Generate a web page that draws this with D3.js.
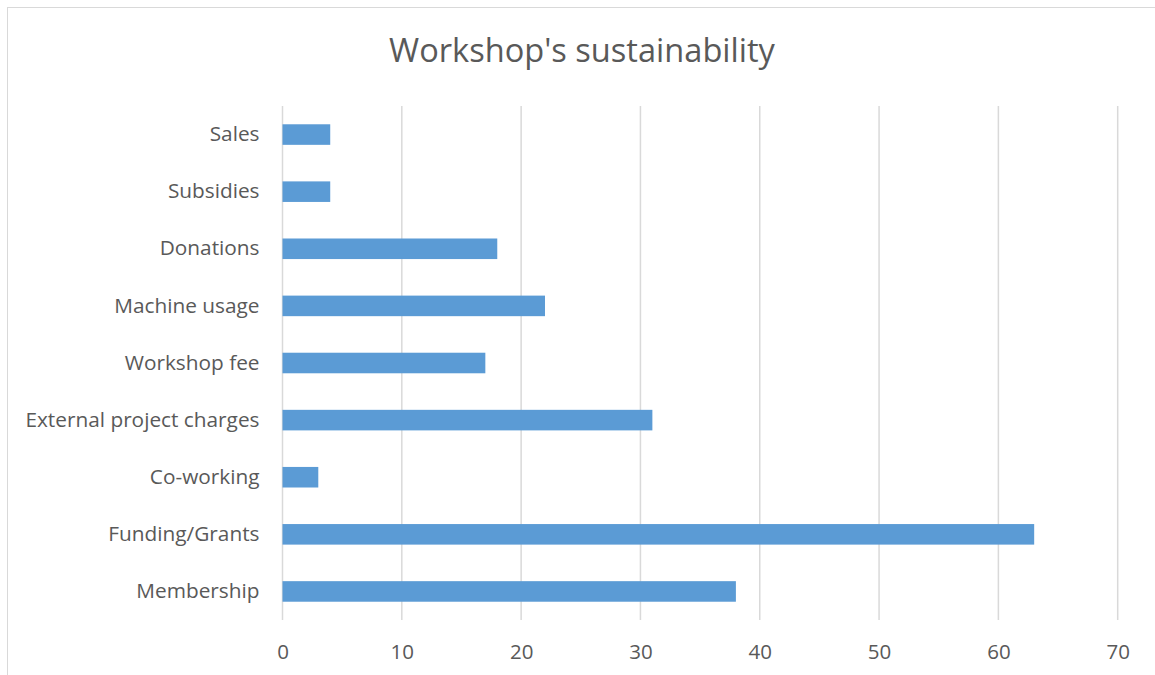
<!DOCTYPE html>
<html>
<head>
<meta charset="utf-8">
<script src="https://cdn.jsdelivr.net/npm/d3@7"></script>
<style>
  html, body { margin: 0; padding: 0; background: #fff; }
  svg { display: block; font-family: "Open Sans", "Liberation Sans", sans-serif; }
</style>
</head>
<body>
<svg id="chart" width="1155" height="675"></svg>
<script>
// Income sources of the workshop (number of responses)
const categories = ["Sales", "Subsidies", "Donations", "Machine usage", "Workshop fee",
  "External project charges", "Co-working", "Funding/Grants", "Membership"];
const values = [4, 4, 18, 22, 17, 31, 3, 63, 38];
const xTicks = [0, 10, 20, 30, 40, 50, 60, 70];
const title = "Workshop's sustainability";

const svg = d3.select("#chart");
const W = 1155, H = 675;
const margin = { left: 282.5, right: 37.3, top: 106, bottom: 55 };

// Chart frame
svg.append("rect")
  .attr("x", 7.5).attr("y", 7.5)
  .attr("width", W + 10).attr("height", H)
  .attr("fill", "#fff").attr("stroke", "#d9d9d9").attr("stroke-width", 1);

const x = d3.scaleLinear().domain([0, 70]).range([margin.left, W - margin.right]);
const y = d3.scaleBand().domain(categories).range([margin.top, H - margin.bottom]).paddingInner(0.64).paddingOuter(0.32);

// Vertical gridlines
svg.append("g")
  .selectAll("line")
  .data(xTicks)
  .join("line")
  .attr("x1", d => x(d)).attr("x2", d => x(d))
  .attr("y1", margin.top).attr("y2", H - margin.bottom)
  .attr("stroke", "#d9d9d9").attr("stroke-width", 1.5);

// Bars
svg.append("g")
  .selectAll("rect")
  .data(categories.map((c, i) => ({ c, v: values[i] })))
  .join("rect")
  .attr("x", x(0))
  .attr("y", d => y(d.c))
  .attr("width", d => x(d.v) - x(0))
  .attr("height", y.bandwidth())
  .attr("fill", "#5b9bd5");

// X axis labels
const xAxis = d3.axisBottom(x).tickValues(xTicks).tickSize(0).tickPadding(24);
const gx = svg.append("g").attr("transform", `translate(0,${H - margin.bottom})`).call(xAxis);
gx.select(".domain").remove();
gx.selectAll("text").attr("fill", "#595959").attr("font-size", 20.5)
  .attr("font-family", "\"Open Sans\", sans-serif");

// Category labels
const yAxis = d3.axisLeft(y).tickSize(0).tickPadding(23);
const gy = svg.append("g").attr("transform", `translate(${margin.left},0)`).call(yAxis);
gy.select(".domain").remove();
gy.selectAll("text").attr("fill", "#595959").attr("font-size", 20.8)
  .attr("font-family", "\"Open Sans\", sans-serif");

// Title
svg.append("text")
  .attr("x", 582).attr("y", 62)
  .attr("text-anchor", "middle")
  .attr("fill", "#595959")
  .attr("font-size", 32.6)
  .text(title);
</script>
</body>
</html>
